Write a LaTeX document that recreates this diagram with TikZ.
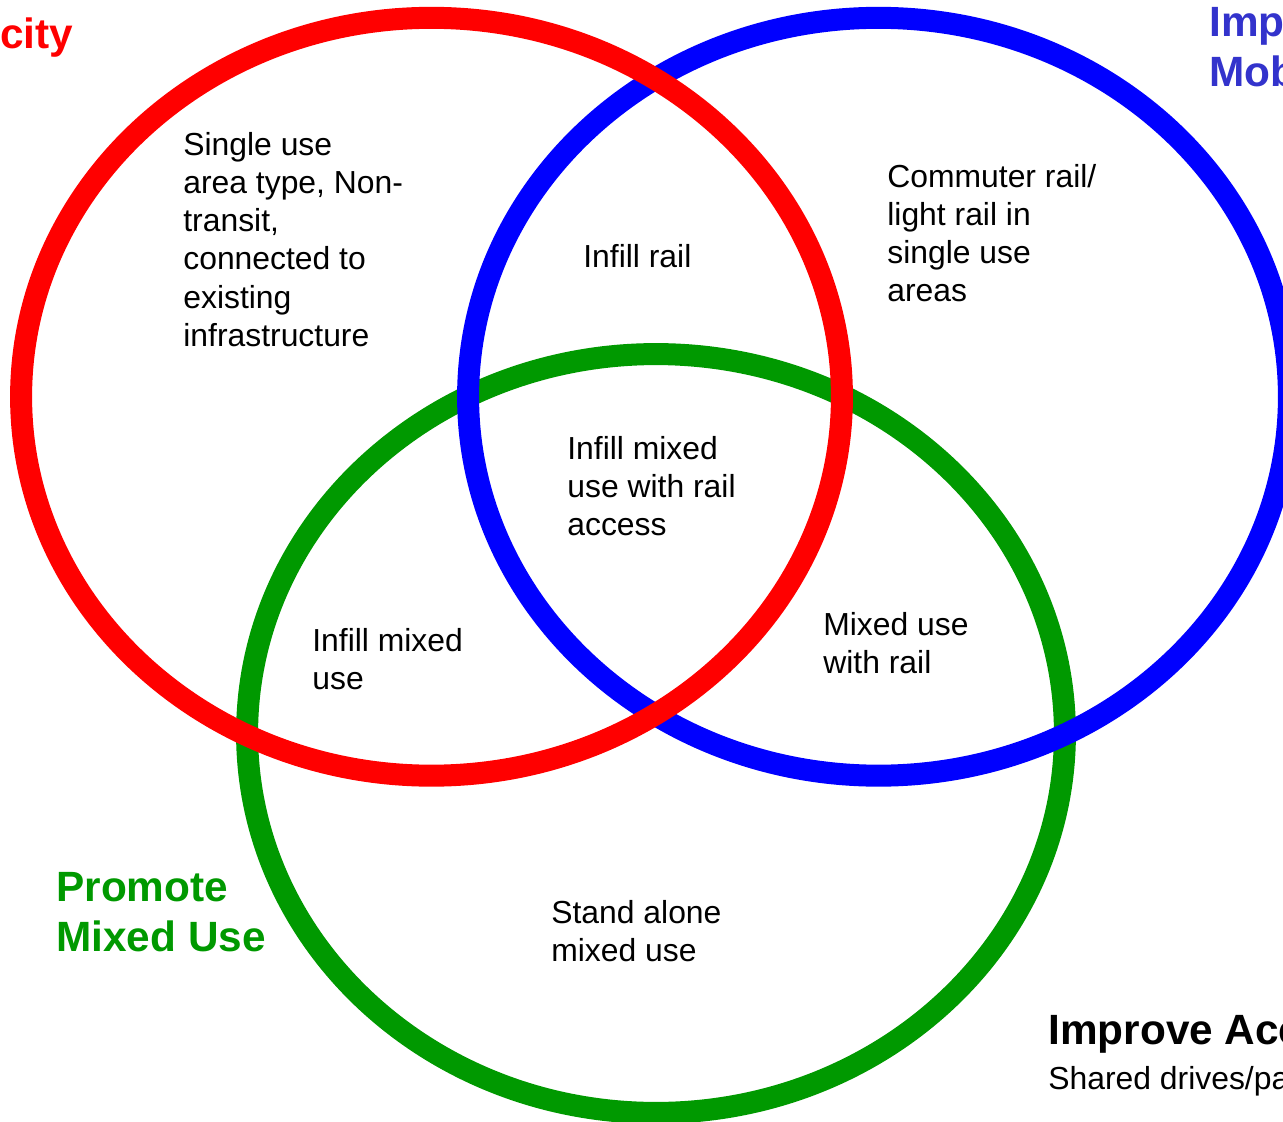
\documentclass[tikz,border=0pt]{standalone}
\usepackage{fontspec}
\setmainfont{Liberation Sans}
\definecolor{vred}{RGB}{255,0,0}
\definecolor{vblue}{RGB}{0,0,255}
\definecolor{vgreen}{RGB}{0,153,0}
\definecolor{tblue}{RGB}{51,51,204}
\definecolor{tgreen}{RGB}{0,153,0}
\begin{document}
\begin{tikzpicture}[x=0.02cm,y=-0.02cm,
  ring/.style={line width=0.44cm},
  body/.style={anchor=north west, inner sep=0pt, align=left,
    font=\fontsize{18.14pt}{21.72pt}\selectfont},
  title/.style={anchor=north west, inner sep=0pt, align=left,
    font=\fontsize{24.1pt}{28.35pt}\selectfont\bfseries}]
\useasboundingbox (0,0) rectangle (1283,1121);
\clip (0,0) rectangle (1283,1121);
\fill[white] (0,0) rectangle (1283,1121);
% rings
\draw[ring, vgreen] (656,733.5) ellipse [x radius=8.18cm, y radius=7.59cm];
\draw[ring, vblue] (878.5,396.75) ellipse [x radius=8.21cm, y radius=7.58cm];
\draw[ring, vred] (431.5,396.75) ellipse [x radius=8.21cm, y radius=7.58cm];
% region texts
\node[body] (r) at (183,132) {Single use\\area type, Non-\\transit,\\connected to\\existing\\infrastructure};
\node[body] (rb) at (583,244) {Infill rail};
\node[body] (b) at (887,164) {Commuter rail/\\light rail in\\single use\\areas};
\node[body] (rbg) at (567,436) {Infill mixed\\use with rail\\access};
\node[body] (rg) at (312,628) {Infill mixed\\use};
\node[body] (bg) at (823,612) {Mixed use\\with rail};
\node[body] (g) at (551,900) {Stand alone\\mixed use};
% titles
\node[title, text=vred] (tr) at (0,17) {city};
\node[title, text=tblue] (tb) at (1209,7) {Improve\\Mobility};
\node[title, text=tgreen] (tg) at (56,872) {Promote\\Mixed Use};
\node[title, text=black] (ta) at (1048,1015) {Improve Access};
\node[body] (ts) at (1048,1066) {Shared drives/parking};
\end{tikzpicture}
\end{document}
